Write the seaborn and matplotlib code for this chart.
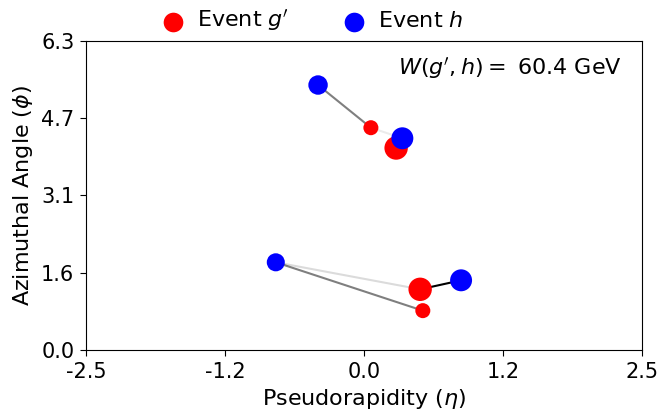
import matplotlib
matplotlib.use("Agg")
import matplotlib.pyplot as plt
import seaborn as sns
import numpy as np
import pandas as pd

sns.set_style("white")
plt.rcParams['font.family'] = ['DejaVu Sans']
plt.rcParams['mathtext.fontset'] = 'dejavusans'
for k in ['text.color', 'axes.labelcolor', 'xtick.color', 'ytick.color', 'axes.edgecolor']:
    plt.rcParams[k] = 'black'

# Event g' particles
g_eta = [0.061, 0.288, 0.504, 0.528]
g_phi = [4.52, 4.107, 1.234, 0.80]
g_size = [117, 284, 284, 117]

# Event h particles
h_eta = [-0.414, 0.344, -0.794, 0.872]
h_phi = [5.388, 4.305, 1.783, 1.417]
h_size = [196, 250, 169, 250]

# flows (g index, h index, weight)
flow_g = [0, 0, 1, 2, 3, 2]
flow_h = [0, 1, 1, 3, 2, 2]
flow_w = [0.5, 0.08, 0.5, 1.0, 0.5, 0.14]

emd_value = 60.4
xticks = [-2.5, -1.25, 0.0, 1.25, 2.5]
xticklabels = ["-2.5", "-1.2", "0.0", "1.2", "2.5"]
yticks = list(np.linspace(0, 2 * np.pi, 5))
yticklabels = ["0.0", "1.6", "3.1", "4.7", "6.3"]

df_g = pd.DataFrame({"eta": g_eta, "phi": g_phi, "s": g_size})
df_h = pd.DataFrame({"eta": h_eta, "phi": h_phi, "s": h_size})

fig, ax = plt.subplots(figsize=(6.62, 4.12), dpi=100)
fig.subplots_adjust(left=0.13, right=0.97, top=0.9005, bottom=0.1505)

for gi, hi, w in zip(flow_g, flow_h, flow_w):
    ax.plot([g_eta[gi], h_eta[hi]], [g_phi[gi], h_phi[hi]],
            color="black", alpha=w, lw=1.5, zorder=1)

sns.scatterplot(data=df_g, x="eta", y="phi", s=df_g["s"], color="red",
                linewidth=0, ax=ax, zorder=2, label="Event $g'$")
sns.scatterplot(data=df_h, x="eta", y="phi", s=df_h["s"], color="blue",
                linewidth=0, ax=ax, zorder=3, label="Event $h$")

ax.set_xlim(-2.5, 2.5)
ax.set_ylim(0, 2 * np.pi)
ax.set_xticks(xticks)
ax.set_xticklabels(xticklabels, fontsize=15)
ax.set_yticks(yticks)
ax.set_yticklabels(yticklabels, fontsize=15)
ax.tick_params(axis="both", direction="out", length=4.5, width=0.8, pad=4,
               left=True, bottom=True, colors="black")
for sp in ax.spines.values():
    sp.set_color("black")
    sp.set_linewidth(0.8)
ax.set_xlabel(r"Pseudorapidity ($\eta$)", fontsize=16, labelpad=4, color="black")
ax.set_ylabel(r"Azimuthal Angle ($\phi$)", fontsize=16, labelpad=4, color="black")

ax.text(0.963, 0.913, r"$W(g', h) = $ " + f"{emd_value} GeV", transform=ax.transAxes,
        ha="right", va="center", fontsize=16, color="black")

ax.legend_.remove()
handles, labels = ax.get_legend_handles_labels()
leg = fig.legend(handles, labels, loc="center", bbox_to_anchor=(0.468, 0.95), ncol=2,
                 frameon=False, fontsize=16, columnspacing=2.2, handletextpad=0.3,
                 handlelength=1.5, markerscale=1.0)
for t in leg.get_texts():
    t.set_color("black")
for hdl in leg.legend_handles:
    hdl.set_sizes([200])

fig.savefig("out.png", dpi=100)
